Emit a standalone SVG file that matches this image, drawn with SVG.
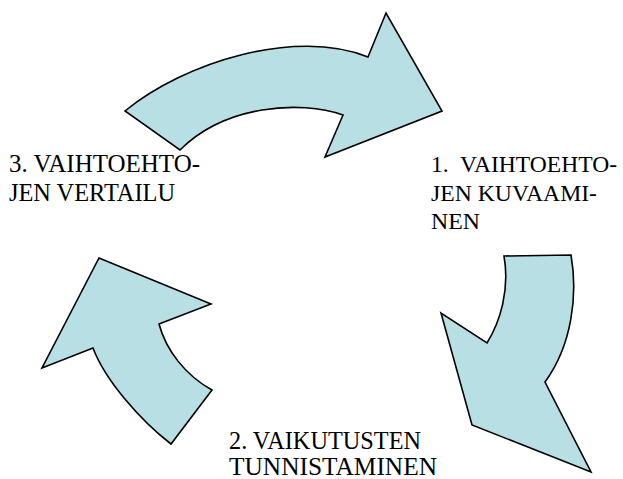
<svg xmlns="http://www.w3.org/2000/svg" width="623" height="479" viewBox="0 0 623 479">
<style>
.arrow{fill:#b8dfe3;stroke:#000;stroke-width:1.6;stroke-linejoin:miter}
text{font-family:'Liberation Serif','Times New Roman',serif;fill:#000}
</style>
<rect width="623" height="479" fill="#fff"/>
<g id="connectors">
<path id="arrow-top" class="arrow" d="M125,111 C185,62 295,28 368,57 L386,13 L442,111 L325,157 L343,115 C300,100 225,105 180,150 Z"/>
<path id="arrow-right" class="arrow" d="M504,256 L571,255 C578,295 572,345 545,382 L591,472 L472,425 L441,313 L487,343 C500,322 510,290 504,256 Z"/>
<path id="arrow-left" class="arrow" d="M99,258 L211,304 L159,324 C166,350 185,375 212,390 L171,444 C140,420 105,380 93,348 L42,368 Z"/>
</g>
<g id="node-1" font-size="23.5">
<text x="431" y="172" textLength="186" lengthAdjust="spacingAndGlyphs" xml:space="preserve">1.  VAIHTOEHTO-</text>
<text x="431" y="200.5" textLength="166" lengthAdjust="spacingAndGlyphs">JEN KUVAAMI-</text>
<text x="431" y="229" textLength="49" lengthAdjust="spacingAndGlyphs">NEN</text>
</g>
<g id="node-2" font-size="25">
<text x="229" y="449" textLength="192" lengthAdjust="spacingAndGlyphs">2. VAIKUTUSTEN</text>
<text x="229" y="475" textLength="208" lengthAdjust="spacingAndGlyphs">TUNNISTAMINEN</text>
</g>
<g id="node-3" font-size="24.5">
<text x="9" y="172" textLength="191" lengthAdjust="spacingAndGlyphs">3. VAIHTOEHTO-</text>
<text x="9" y="200.5" textLength="166" lengthAdjust="spacingAndGlyphs">JEN VERTAILU</text>
</g>
</svg>
